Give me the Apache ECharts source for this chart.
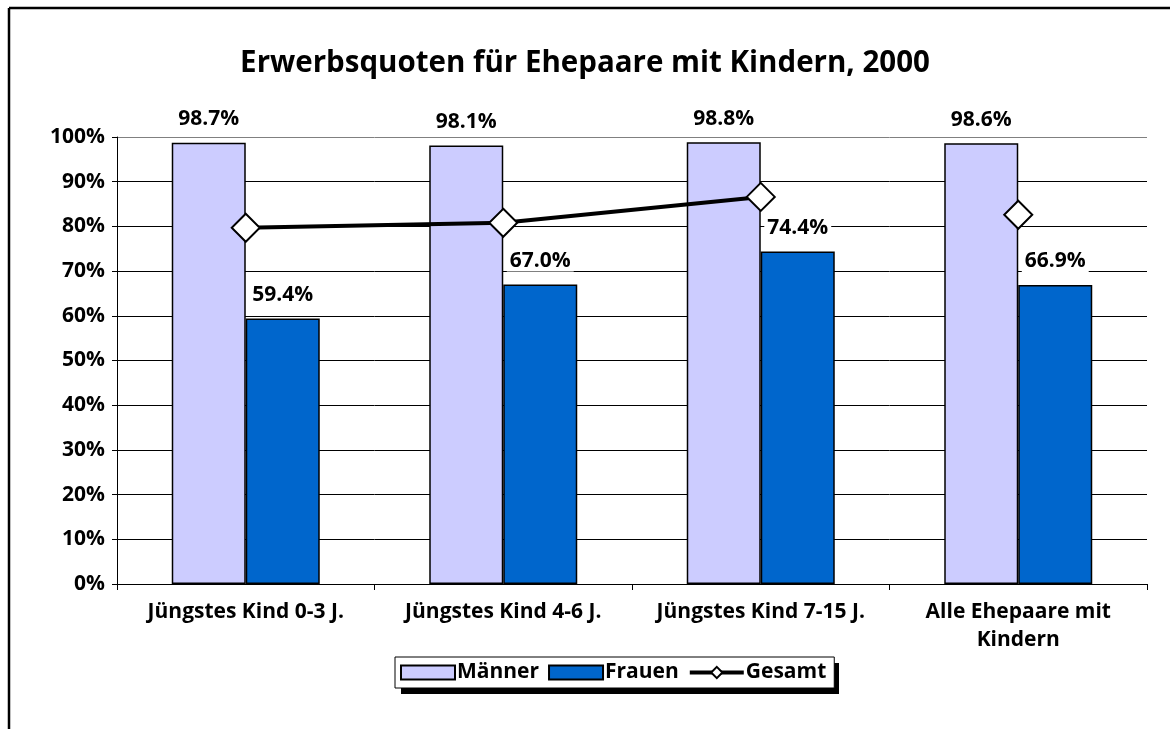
<!DOCTYPE html>
<html>
<head>
<meta charset="utf-8">
<script src="https://cdn.jsdelivr.net/npm/echarts@6/dist/echarts.min.js"></script>
<style>
html,body{margin:0;padding:0;background:#fff;}
#c{width:1170px;height:729px;}
</style>
</head>
<body>
<div id="c"></div>
<script>
var categories = ['Jüngstes Kind 0-3 J.', 'Jüngstes Kind 4-6 J.', 'Jüngstes Kind 7-15 J.', 'Alle Ehepaare mit\nKindern'];
var maenner = [98.7, 98.1, 98.8, 98.6];
var frauen = [59.4, 67.0, 74.4, 66.9];
var gesamtLinked = [79.7, 80.8, 86.6, '-'];
var gesamtSingle = ['-', '-', '-', 82.6];
var yTicks = [0, 100, 10];

var FONT = '"Open Sans", "DejaVu Sans", sans-serif';
var chart = echarts.init(document.getElementById('c'), null, {renderer: 'canvas'});

var labelCommon = {
  show: true,
  position: 'top',
  distance: 13,
  fontFamily: FONT,
  fontWeight: 'bold',
  fontSize: 21,
  color: '#000',
  backgroundColor: '#fff',
  padding: [0, 3],
  formatter: function (p) { return p.value.toFixed(1) + '%'; }
};

var gridColors = ['#000', '#000', '#000', '#000', '#000', '#000', '#000', '#000', '#000', '#000', '#808080'];

chart.setOption({
  animation: false,
  backgroundColor: '#fff',
  title: {
    text: 'Erwerbsquoten für Ehepaare mit Kindern, 2000',
    left: 'center',
    top: 44,
    textStyle: {fontFamily: FONT, fontWeight: 'bold', fontSize: 29.5, color: '#000'}
  },
  graphic: [
    {type: 'line', shape: {x1: 9, y1: 8, x2: 1170, y2: 8}, style: {stroke: '#000', lineWidth: 2.5}, silent: true},
    {type: 'line', shape: {x1: 9, y1: 8, x2: 9, y2: 729}, style: {stroke: '#000', lineWidth: 2.5}, silent: true},
    {type: 'rect', id: 'legendShadow', shape: {x: 401, y: 663, width: 438, height: 31}, style: {fill: '#000'}, silent: true, z: -1}
  ],
  legend: {
    left: 395,
    top: 657,
    data: [
      {name: 'Männer', icon: 'rect'},
      {name: 'Frauen', icon: 'rect'},
      {name: 'Gesamt', lineStyle: {width: 4, color: '#000'}}
    ],
    itemGap: 9,
    itemWidth: 54,
    itemHeight: 14,
    padding: [5, 8, 5, 5],
    backgroundColor: '#fff',
    borderColor: '#000',
    borderWidth: 1,
    z: 10,
    textStyle: {fontFamily: FONT, fontWeight: 'bold', fontSize: 21, color: '#000', padding: [0, 0, 0, -3]}
  },
  grid: {left: 117, right: 23, top: 137, bottom: 145, containLabel: false},
  xAxis: {
    type: 'category',
    data: categories,
    boundaryGap: true,
    axisLine: {show: true, lineStyle: {color: '#000', width: 1}},
    axisTick: {show: true, alignWithLabel: false, length: 6, lineStyle: {color: '#000'}},
    axisLabel: {fontFamily: FONT, fontWeight: 'bold', fontSize: 21, color: '#000', margin: 14, lineHeight: 28, interval: 0}
  },
  yAxis: {
    type: 'value',
    min: yTicks[0],
    max: yTicks[1],
    interval: yTicks[2],
    axisLine: {show: true, lineStyle: {color: '#000', width: 1}},
    axisTick: {show: true, length: 5, lineStyle: {color: '#000'}},
    splitLine: {show: true, lineStyle: {color: gridColors, width: 1}},
    axisLabel: {formatter: '{value}%', fontFamily: FONT, fontWeight: 'bold', fontSize: 21, color: '#000', margin: 12}
  },
  series: [
    {
      name: 'Männer',
      type: 'bar',
      data: maenner,
      barWidth: 74,
      barGap: '0%',
      itemStyle: {color: '#CCCCFF', borderColor: '#000', borderWidth: 1.5},
      label: labelCommon
    },
    {
      name: 'Frauen',
      type: 'bar',
      data: frauen,
      barWidth: 74,
      barGap: '0%',
      itemStyle: {color: '#0066CC', borderColor: '#000', borderWidth: 1.5},
      label: labelCommon
    },
    {
      name: 'Gesamt',
      type: 'line',
      data: gesamtLinked,
      symbol: 'diamond',
      symbolSize: 28,
      showAllSymbol: true,
      lineStyle: {color: '#000', width: 4},
      itemStyle: {color: '#fff', borderColor: '#000', borderWidth: 2},
      z: 5
    },
    {
      name: 'Gesamt',
      type: 'line',
      data: gesamtSingle,
      symbol: 'diamond',
      symbolSize: 28,
      showAllSymbol: true,
      lineStyle: {color: '#000', width: 4},
      itemStyle: {color: '#fff', borderColor: '#000', borderWidth: 2},
      z: 5
    }
  ]
});
</script>
</body>
</html>
